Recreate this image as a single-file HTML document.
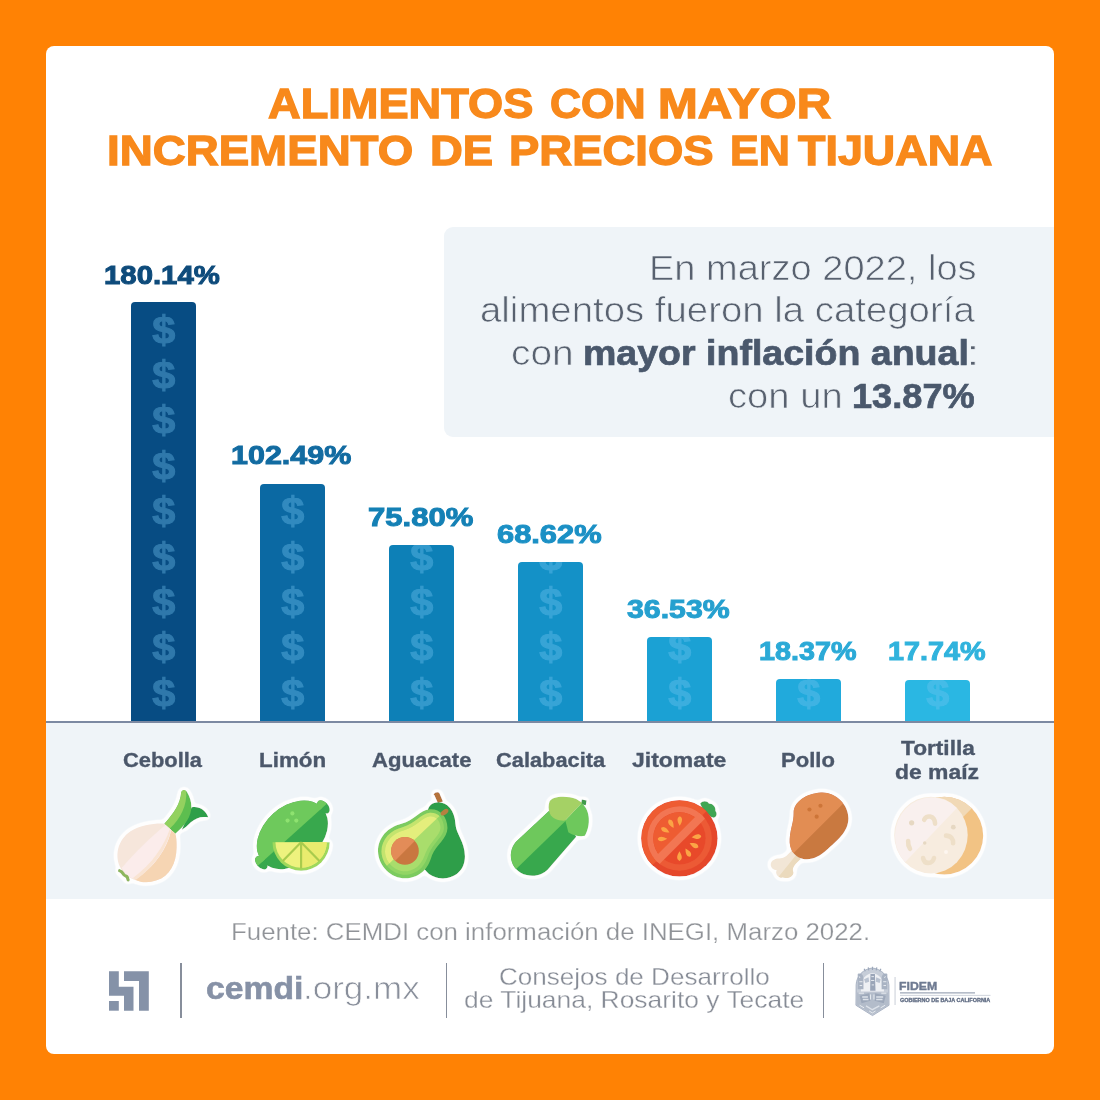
<!DOCTYPE html>
<html lang="es"><head><meta charset="utf-8"><title>Alimentos con mayor incremento de precios en Tijuana</title>
<style>
html,body{margin:0;padding:0}
body{width:1100px;height:1100px;background:#FF8204;position:relative;overflow:hidden;font-family:"Liberation Sans",sans-serif}
h1,aside,main,footer,p{margin:0;padding:0;font:inherit}
.card{position:absolute;left:46px;top:46px;width:1008px;height:1008px;background:#fff;border-radius:8px}
.info{position:absolute;left:444px;top:227px;width:610px;height:210px;background:#EFF4F8;border-radius:9px 0 0 9px}
.panel{position:absolute;left:46px;top:722px;width:1008px;height:177px;background:#EFF4F8}
.axis{position:absolute;left:46px;top:720.5px;width:1008px;height:2px;background:#7C89A2}
.t{position:absolute;display:block;white-space:nowrap;line-height:1;transform-origin:0 0;margin:0;font-weight:normal}
.bar{position:absolute;width:65.4px;border-radius:4px 4px 0 0;overflow:hidden}
.bar i{position:absolute;left:0;width:65.4px;text-align:center;font-style:normal;font-weight:bold;font-size:38px;line-height:40px;color:#76C6F2;-webkit-text-stroke:1px #76C6F2;opacity:.36;transform:scaleX(1.09)}
.vd{position:absolute;width:1.7px;background:#878E9B}
svg{position:absolute;left:0;top:0}
</style></head><body>
<div class="card"></div>
<h1>
<span class="t" style="left:267.60px;top:82.60px;font-size:41.70px;color:#F8891B;transform:scaleX(1.0841);-webkit-text-stroke:1.30px #F8891B;font-weight:bold;">ALIMENTOS</span>
<span class="t" style="left:550.33px;top:82.60px;font-size:41.70px;color:#F8891B;transform:scaleX(1.0321);-webkit-text-stroke:1.30px #F8891B;font-weight:bold;">CON</span>
<span class="t" style="left:658.46px;top:82.60px;font-size:41.70px;color:#F8891B;transform:scaleX(1.1441);-webkit-text-stroke:1.30px #F8891B;font-weight:bold;">MAYOR</span>
<span class="t" style="left:106.76px;top:129.90px;font-size:41.70px;color:#F8891B;transform:scaleX(1.0957);-webkit-text-stroke:1.30px #F8891B;font-weight:bold;">INCREMENTO</span>
<span class="t" style="left:429.67px;top:129.90px;font-size:41.70px;color:#F8891B;transform:scaleX(1.0897);-webkit-text-stroke:1.30px #F8891B;font-weight:bold;">DE</span>
<span class="t" style="left:509.27px;top:129.90px;font-size:41.70px;color:#F8891B;transform:scaleX(1.0902);-webkit-text-stroke:1.30px #F8891B;font-weight:bold;">PRECIOS</span>
<span class="t" style="left:729.78px;top:129.90px;font-size:41.70px;color:#F8891B;transform:scaleX(1.0339);-webkit-text-stroke:1.30px #F8891B;font-weight:bold;">EN</span>
<span class="t" style="left:797.70px;top:129.90px;font-size:41.70px;color:#F8891B;transform:scaleX(1.0766);-webkit-text-stroke:1.30px #F8891B;font-weight:bold;">TIJUANA</span>
</h1>
<aside>
<div class="info"></div>
<p class="t" style="left:648.64px;top:251.30px;font-size:34.50px;color:#58616F;transform:scaleX(1.1019);-webkit-text-stroke:0.70px #EFF4F8;">En marzo 2022, los</p>
<p class="t" style="left:480.01px;top:293.30px;font-size:34.50px;color:#58616F;transform:scaleX(1.1119);-webkit-text-stroke:0.70px #EFF4F8;">alimentos fueron la categoría</p>
<p class="t" style="left:510.89px;top:336.20px;font-size:34.50px;color:#58616F;transform:scaleX(1.1270);-webkit-text-stroke:0.70px #EFF4F8;">con</p>
<p class="t" style="left:582.54px;top:336.20px;font-size:34.50px;color:#4A586C;transform:scaleX(1.0878);-webkit-text-stroke:0.70px #4A586C;font-weight:bold;">mayor inflación anual</p>
<p class="t" style="left:965.84px;top:336.20px;font-size:34.50px;color:#58616F;transform:scaleX(1.4316);-webkit-text-stroke:0.70px #EFF4F8;">:</p>
<p class="t" style="left:728.42px;top:378.80px;font-size:34.50px;color:#58616F;transform:scaleX(1.1065);-webkit-text-stroke:0.70px #EFF4F8;">con un</p>
<p class="t" style="left:852.11px;top:378.80px;font-size:34.50px;color:#4A586C;transform:scaleX(1.0481);-webkit-text-stroke:0.70px #4A586C;font-weight:bold;">13.87%</p>
</aside>
<main>
<div class="panel"></div>
<div class="bar" style="left:130.5px;top:302.3px;height:418.7px;background:#074C83"><i style="top:370.5px">$</i><i style="top:325.1px">$</i><i style="top:279.7px">$</i><i style="top:234.3px">$</i><i style="top:188.9px">$</i><i style="top:143.5px">$</i><i style="top:98.1px">$</i><i style="top:52.7px">$</i><i style="top:7.3px">$</i></div>
<div class="bar" style="left:259.6px;top:483.6px;height:237.4px;background:#0B69A3"><i style="top:189.2px">$</i><i style="top:143.8px">$</i><i style="top:98.4px">$</i><i style="top:53.0px">$</i><i style="top:7.6px">$</i><i style="top:-37.8px">$</i></div>
<div class="bar" style="left:388.7px;top:545.2px;height:175.8px;background:#0D80B7"><i style="top:127.6px">$</i><i style="top:82.2px">$</i><i style="top:36.8px">$</i><i style="top:-8.6px">$</i></div>
<div class="bar" style="left:517.7px;top:562.0px;height:159.0px;background:#1491C7"><i style="top:110.8px">$</i><i style="top:65.4px">$</i><i style="top:20.0px">$</i><i style="top:-25.4px">$</i></div>
<div class="bar" style="left:646.8px;top:637.0px;height:84.0px;background:#1BA1D4"><i style="top:35.8px">$</i><i style="top:-9.6px">$</i></div>
<div class="bar" style="left:775.9px;top:679.3px;height:41.7px;background:#21AADC"><i style="top:-6.5px">$</i></div>
<div class="bar" style="left:905.0px;top:680.2px;height:40.8px;background:#2AB7E3"><i style="top:-7.4px">$</i></div>
<div class="axis"></div>
<div class="t" style="left:104.02px;top:261.55px;font-size:26.40px;color:#0E4B7B;transform:scaleX(1.1115);-webkit-text-stroke:1.00px #0E4B7B;font-weight:bold;">180.14%</div>
<div class="t" style="left:231.17px;top:442.25px;font-size:26.40px;color:#126BA1;transform:scaleX(1.1541);-webkit-text-stroke:1.00px #126BA1;font-weight:bold;">102.49%</div>
<div class="t" style="left:368.12px;top:504.35px;font-size:26.40px;color:#1480B5;transform:scaleX(1.1764);-webkit-text-stroke:1.00px #1480B5;font-weight:bold;">75.80%</div>
<div class="t" style="left:497.42px;top:520.65px;font-size:26.40px;color:#1B90C5;transform:scaleX(1.1686);-webkit-text-stroke:1.00px #1B90C5;font-weight:bold;">68.62%</div>
<div class="t" style="left:627.40px;top:595.95px;font-size:26.40px;color:#25A0CF;transform:scaleX(1.1465);-webkit-text-stroke:1.00px #25A0CF;font-weight:bold;">36.53%</div>
<div class="t" style="left:758.75px;top:638.15px;font-size:26.40px;color:#2BAAD7;transform:scaleX(1.0891);-webkit-text-stroke:1.00px #2BAAD7;font-weight:bold;">18.37%</div>
<div class="t" style="left:887.75px;top:638.15px;font-size:26.40px;color:#30B3DD;transform:scaleX(1.0902);-webkit-text-stroke:1.00px #30B3DD;font-weight:bold;">17.74%</div>
<div class="t" style="left:123.14px;top:749.66px;font-size:20.60px;color:#4B576A;transform:scaleX(1.0621);-webkit-text-stroke:0.35px #4B576A;font-weight:bold;">Cebolla</div>
<div class="t" style="left:258.58px;top:749.66px;font-size:20.60px;color:#4B576A;transform:scaleX(1.0862);-webkit-text-stroke:0.35px #4B576A;font-weight:bold;">Limón</div>
<div class="t" style="left:371.55px;top:749.66px;font-size:20.60px;color:#4B576A;transform:scaleX(1.0737);-webkit-text-stroke:0.35px #4B576A;font-weight:bold;">Aguacate</div>
<div class="t" style="left:495.84px;top:749.66px;font-size:20.60px;color:#4B576A;transform:scaleX(1.0589);-webkit-text-stroke:0.35px #4B576A;font-weight:bold;">Calabacita</div>
<div class="t" style="left:632.06px;top:749.66px;font-size:20.60px;color:#4B576A;transform:scaleX(1.1141);-webkit-text-stroke:0.35px #4B576A;font-weight:bold;">Jitomate</div>
<div class="t" style="left:781.40px;top:749.66px;font-size:20.60px;color:#4B576A;transform:scaleX(1.0695);-webkit-text-stroke:0.35px #4B576A;font-weight:bold;">Pollo</div>
<div class="t" style="left:900.77px;top:738.36px;font-size:20.60px;color:#4B576A;transform:scaleX(1.1003);-webkit-text-stroke:0.35px #4B576A;font-weight:bold;">Tortilla</div>
<div class="t" style="left:895.30px;top:761.96px;font-size:20.60px;color:#4B576A;transform:scaleX(1.1128);-webkit-text-stroke:0.35px #4B576A;font-weight:bold;">de maíz</div>
</main>
<footer>
<p class="t" style="left:230.75px;top:921.18px;font-size:23.30px;color:#909398;transform:scaleX(1.1092);-webkit-text-stroke:0.25px #FFFFFF;">Fuente: CEMDI con información de INEGI, Marzo 2022.</p>
<div class="vd" style="left:180px;top:963px;height:55px"></div>
<div class="vd" style="left:445.5px;top:963px;height:55px"></div>
<div class="vd" style="left:822.5px;top:963px;height:55px"></div>
<div class="t" style="left:206.37px;top:972.96px;font-size:31.00px;color:#8691A6;transform:scaleX(1.0859);-webkit-text-stroke:0.60px #8691A6;font-weight:bold;">cemdi</div>
<div class="t" style="left:303.37px;top:972.96px;font-size:31.00px;color:#898F9B;transform:scaleX(1.1294);-webkit-text-stroke:0.70px #FFFFFF;">.org.mx</div>
<div class="t" style="left:499.43px;top:964.88px;font-size:24.00px;color:#878C96;transform:scaleX(1.0858);-webkit-text-stroke:0.30px #FFFFFF;">Consejos de Desarrollo</div>
<div class="t" style="left:464.23px;top:987.58px;font-size:24.00px;color:#878C96;transform:scaleX(1.1008);-webkit-text-stroke:0.30px #FFFFFF;">de Tijuana, Rosarito y Tecate</div>
<div class="t" style="left:899.45px;top:980.62px;font-size:11.20px;color:#6F7B92;transform:scaleX(1.0943);-webkit-text-stroke:0.40px #6F7B92;font-weight:bold;">FIDEM</div>
<div class="t" style="left:899.95px;top:997.87px;font-size:5.00px;color:#616D84;transform:scaleX(1.0934);-webkit-text-stroke:0.30px #616D84;font-weight:bold;">GOBIERNO DE BAJA CALIFORNIA</div>
</footer>
<svg width="1100" height="1100" viewBox="0 0 1100 1100">
<defs><filter id="ol" x="-10%" y="-10%" width="120%" height="120%" filterUnits="objectBoundingBox">
<feGaussianBlur in="SourceAlpha" stdDeviation="2.6" result="b"/>
<feComponentTransfer in="b" result="t"><feFuncA type="linear" slope="14" intercept="-0.45"/></feComponentTransfer>
<feFlood flood-color="#FFFFFF" flood-opacity="0.92"/><feComposite in2="t" operator="in" result="o"/>
<feMerge><feMergeNode in="o"/><feMergeNode in="SourceGraphic"/></feMerge></filter></defs>
<g filter="url(#ol)"><g transform="translate(100,780) scale(0.10909)">
<path d="M840 250 C900 235 970 270 992 342 C930 330 880 345 830 390 C800 420 780 440 750 455 Z" fill="#2E9F4A"/>
<path d="M590 400 C680 300 735 220 745 110 C755 85 790 90 800 115 C850 200 850 290 800 370 C770 420 730 460 690 492 Z" fill="#5DBE50"/>
<path d="M590 400 C680 300 735 220 745 110 C755 90 775 88 790 100 C800 230 740 350 640 445 Z" fill="#93D15F"/>
<path d="M590 400 C500 395 380 410 280 470 C160 550 130 700 190 810 C250 920 400 960 520 920 C640 880 700 760 702 620 C703 560 700 520 690 492 Z" fill="#F6E6DB"/>
<path d="M652 458 C620 620 500 800 320 912 C380 945 450 945 520 920 C640 880 700 760 702 620 C703 560 700 520 690 492 Z" fill="#F6D5B3"/>
<path d="M600 412 C470 520 320 660 200 805 C220 855 265 895 320 912 C500 800 620 620 652 458 Z" fill="#FBECEB"/>
<path d="M640 450 C590 600 480 770 300 900 L330 915 C505 790 615 615 650 458 Z" fill="#F9E4D3"/>
<path d="M180 832 C215 840 205 872 235 880 C262 888 250 910 258 915" fill="none" stroke="#8DB65C" stroke-width="30" stroke-linecap="round"/>
</g></g>
<g filter="url(#ol)"><g transform="translate(240,780) scale(0.10909)">
<clipPath id="lt"><rect x="-100" y="0" width="1200" height="502"/></clipPath>
<g transform="rotate(-42 480 502)">
<g fill="#37A84E"><ellipse cx="480" cy="502" rx="370" ry="262"/><ellipse cx="863" cy="502" rx="44" ry="72"/><ellipse cx="97" cy="502" rx="44" ry="72"/></g>
<g fill="#6EC95B" clip-path="url(#lt)"><ellipse cx="480" cy="502" rx="370" ry="262"/><ellipse cx="863" cy="502" rx="44" ry="72"/><ellipse cx="97" cy="502" rx="44" ry="72"/></g>
</g>
<circle cx="480" cy="306" r="19" fill="#8EE26F"/><circle cx="436" cy="372" r="19" fill="#8EE26F"/><circle cx="516" cy="372" r="19" fill="#8EE26F"/>
<path d="M298 570 L822 570 A262 262 0 0 1 298 570 Z" fill="#9FD85B"/>
<path d="M325 570 L795 570 A235 235 0 0 1 325 570 Z" fill="#EEF27E"/>
<path d="M560 570 L795 570 A235 235 0 0 1 560 805 Z" fill="#E9EC6E"/>
<path d="M560 570 L560 812 M560 570 L392 742 M560 570 L728 742" stroke="#A9CB4D" stroke-width="20" fill="none"/>
</g></g>
<g filter="url(#ol)"><g transform="translate(360,780) scale(0.10909)">
<path d="M678 130 C680 112 718 104 728 122 L760 196 L714 210 Z" fill="#B5733B"/>
<path d="M720 205 C800 205 868 280 875 400 C880 500 962 560 962 700 C962 830 870 902 760 902 C650 902 560 830 560 700 C560 560 640 500 620 300 C620 240 660 205 720 205 Z" fill="#2F9E48"/>
<path d="M640 268 C730 262 800 330 802 440 C800 540 700 590 660 690 C630 790 580 880 440 900 C300 915 170 800 165 655 C165 520 260 430 380 400 C500 370 540 280 640 268 Z" fill="#7CCB5E"/>
<clipPath id="av"><path d="M900 170 L120 905 L0 905 L0 0 L900 0 Z"/></clipPath>
<path d="M640 300 C715 296 768 350 770 440 C768 520 675 570 630 680 C600 770 555 850 435 868 C315 880 200 780 197 655 C197 540 280 460 390 432 C510 400 555 308 640 300 Z" fill="#92D565"/>
<path d="M640 300 C715 296 768 350 770 440 C768 520 675 570 630 680 C600 770 555 850 435 868 C315 880 200 780 197 655 C197 540 280 460 390 432 C510 400 555 308 640 300 Z" fill="#C4E46E" clip-path="url(#av)"/>
<path d="M640 332 C695 330 736 370 738 440 C736 505 650 555 602 668 C572 752 535 820 432 836 C330 846 232 760 229 655 C229 560 300 490 398 462 C520 430 575 338 640 332 Z" fill="#A9DD6C"/>
<path d="M640 332 C695 330 736 370 738 440 C736 505 650 555 602 668 C572 752 535 820 432 836 C330 846 232 760 229 655 C229 560 300 490 398 462 C520 430 575 338 640 332 Z" fill="#E4EE7B" clip-path="url(#av)"/>
<circle cx="412" cy="650" r="127" fill="#C9773F"/>
<path d="M502 560 A127 127 0 0 0 322 740 Z" fill="#E38C58"/>
<ellipse cx="775" cy="295" rx="40" ry="22" transform="rotate(-35 775 295)" fill="#B5803F"/>
</g></g>
<g filter="url(#ol)"><g transform="translate(490,780) scale(0.10909)">
<rect x="838" y="183" width="44" height="44" transform="rotate(10 860 205)" fill="#3F9B4B"/>
<path d="M540 285 L250 555 C160 640 175 790 280 850 C385 905 480 870 530 820 L790 520 L700 370 Z" fill="#37A84E"/>
<clipPath id="zc"><path d="M700 370 L100 952 L0 952 L0 0 L700 0 Z"/></clipPath>
<path d="M540 285 L250 555 C160 640 175 790 280 850 C385 905 480 870 530 820 L790 520 L700 370 Z" fill="#6EC85C" clip-path="url(#zc)"/>
<path d="M840 210 C905 260 935 385 870 512 C830 522 760 512 718 480 L690 370 Z" fill="#6EC85C"/>
<path d="M545 200 C560 150 700 138 790 175 L845 208 L690 372 C640 377 570 360 550 310 C532 270 535 230 545 200 Z" fill="#A5D165"/>
</g></g>
<g filter="url(#ol)"><g transform="translate(620,780) scale(0.10909)">
<path d="M735 215 C760 185 800 190 815 215 C850 215 880 245 875 285 C895 310 885 340 860 345 C800 330 760 280 735 215 Z" fill="#3FA652"/>
<circle cx="545" cy="535" r="350" fill="#E5472B"/>
<path d="M792 287 A350 350 0 0 0 297 782 Z" fill="#EE5B31"/>
<circle cx="545" cy="535" r="297" fill="#EC5A35"/>
<path d="M755 325 A297 297 0 0 0 335 745 Z" fill="#F27652"/>
<circle cx="545" cy="535" r="240" fill="#E84A2C"/>
<path d="M715 365 A240 240 0 0 0 375 705 Z" fill="#EE5B31"/>
<clipPath id="tc"><circle cx="545" cy="535" r="297"/></clipPath><path d="M755 272 L808 325 L335 798 L282 745 Z" fill="#F27652" clip-path="url(#tc)"/>
<path transform="translate(548 372) rotate(181)" d="M0 -48 C25 -6 31 24 0 40 C-31 24 -25 -6 0 -48 Z" fill="#FBA545"/><path transform="translate(468 398) rotate(151)" d="M0 -48 C25 -6 31 24 0 40 C-31 24 -25 -6 0 -48 Z" fill="#FBA545"/><path transform="translate(412 458) rotate(120)" d="M0 -48 C25 -6 31 24 0 40 C-31 24 -25 -6 0 -48 Z" fill="#FBA545"/><path transform="translate(385 540) rotate(88)" d="M0 -48 C25 -6 31 24 0 40 C-31 24 -25 -6 0 -48 Z" fill="#FBA545"/><path transform="translate(705 520) rotate(265)" d="M0 -48 C25 -6 31 24 0 40 C-31 24 -25 -6 0 -48 Z" fill="#FBA545"/><path transform="translate(682 600) rotate(-65)" d="M0 -48 C25 -6 31 24 0 40 C-31 24 -25 -6 0 -48 Z" fill="#FBA545"/><path transform="translate(625 668) rotate(-31)" d="M0 -48 C25 -6 31 24 0 40 C-31 24 -25 -6 0 -48 Z" fill="#FBA545"/><path transform="translate(545 702) rotate(0)" d="M0 -48 C25 -6 31 24 0 40 C-31 24 -25 -6 0 -48 Z" fill="#FBA545"/></g></g>
<g filter="url(#ol)"><g transform="translate(750,780) scale(0.10909)">
<path d="M385 645 L465 725 C430 755 380 800 395 838 C410 878 345 915 300 892 C262 905 225 858 245 828 C182 820 170 750 225 728 C265 712 300 728 335 695 Z" fill="#F2E6D6"/>
<path d="M425 685 L465 725 C430 755 380 800 395 838 C410 878 345 915 300 892 C285 898 272 895 262 888 Z" fill="#EBDABD"/>
<path d="M650 115 C780 108 902 220 902 350 C902 480 790 560 705 640 C640 702 560 742 480 722 C400 702 358 620 364 540 C370 440 402 385 400 300 C400 200 520 122 650 115 Z" fill="#C97941"/>
<path d="M650 115 C730 110 805 150 855 215 L398 672 C370 635 360 588 364 540 C370 440 402 385 400 300 C400 200 520 122 650 115 Z" fill="#E28D53"/>
<circle cx="545" cy="270" r="19" fill="#CD7438"/><circle cx="646" cy="236" r="19" fill="#CD7438"/><circle cx="611" cy="336" r="19" fill="#CD7438"/>
</g></g>
<g filter="url(#ol)"><g transform="translate(880,780) scale(0.10909)">
<circle cx="590" cy="510" r="356" fill="#F2C384"/>
<path d="M842 258 A356 356 0 0 0 338 762 Z" fill="#F1D9B6"/>
<ellipse cx="467" cy="505" rx="337" ry="352" fill="#F7ECDF"/>
<path d="M705 256 A337 352 0 0 0 229 754 Z" fill="#F9F0EE"/>
<g fill="none" stroke="#EEDFC8" stroke-width="42" stroke-linecap="round">
<path d="M405 365 C420 320 500 320 505 400"/>
<path d="M258 560 C255 590 265 615 275 630"/>
<path d="M395 715 C405 775 480 775 495 715"/>
<path d="M605 510 C650 510 675 545 670 580"/>
</g>
<g fill="#E6D8C2"><circle cx="290" cy="392" r="24"/><circle cx="672" cy="432" r="22"/><circle cx="410" cy="578" r="16"/></g>
<circle cx="605" cy="660" r="18" fill="#FDF6F0"/>
</g></g>
<g fill="#8592A8">
<path d="M109 971.2H118.8V986.7H133.5V1010.7H124V995.7H109Z"/>
<path d="M124 971.2H148.8V1010.7H139V981H124Z"/>
<rect x="109" y="1001" width="9.8" height="9.7"/>
</g>
<g transform="translate(845,955) scale(0.063636)">
<path d="M175 470 C180 330 290 215 430 205 C570 215 680 330 690 470 L692 790 L432 952 L172 790 Z" fill="#C6CDD8"/>
<path d="M250 480 C255 380 330 290 430 285 C530 290 605 380 612 480 L612 575 L250 575 Z" fill="#EEF0F4"/>
<path d="M190 590 L675 590 L680 785 L432 935 L185 785 Z" fill="#B3BCCA"/>
<path d="M200 300 C230 280 290 300 290 360 L290 540 L200 540 Z M665 300 C635 280 575 300 575 360 L575 540 L665 540 Z" fill="#A9B3C3"/>
<path d="M400 300 L470 300 L480 560 L395 560 Z" fill="#9AA5B8"/>
<path d="M300 380 L370 350 L380 420 L320 440 Z M490 350 L560 380 L545 440 L485 420 Z" fill="#B9C2D0"/>
<path d="M230 640 L380 600 L400 720 L260 760 Z M470 600 L640 640 L610 760 L465 720 Z" fill="#9DA8BA"/>
<path d="M270 660 H360 M280 700 H370 M490 660 H600 M490 700 H590 M330 800 L430 860 L540 800" stroke="#DDE2EA" stroke-width="22" fill="none"/>
<path d="M300 215 L320 255 M365 195 L375 240 M432 185 V235 M500 195 L490 240 M565 215 L545 255" stroke="#98A4B8" stroke-width="18" fill="none"/>
<path d="M215 330 L235 360 M225 420 H275 M230 480 H270 M600 420 H650 M605 480 H645 M640 330 L620 360 M415 340 H455 M410 400 H460 M420 470 H455 M300 520 H380 M490 520 H570 M215 600 H300 M570 600 H650 M400 620 V700 M455 620 V700 M230 790 L300 830 M560 830 L630 790 M380 880 L430 910 L480 880" stroke="#EEF1F5" stroke-width="14" fill="none"/>
<path d="M175 470 C180 330 290 215 430 205 C570 215 680 330 690 470 L692 790 L432 952 L172 790 Z" fill="none" stroke="#A3ADBF" stroke-width="14"/>
</g>
<g>
<rect x="894.6" y="977" width="0.9" height="28" fill="#C3C9D3"/>
<rect x="900" y="992.1" width="75" height="1.5" fill="#AEB6C4"/>
<rect x="900" y="994.9" width="90.5" height="0.7" fill="#B9C0CC"/>
</g>
</svg>
</body></html>
